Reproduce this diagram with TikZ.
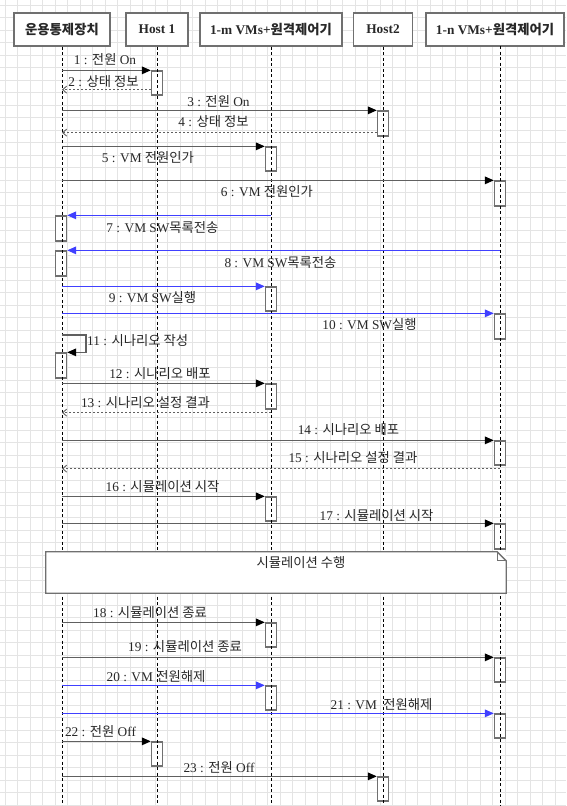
\documentclass[tikz,border=0pt]{standalone}
\usepackage{fontspec}
\setmainfont{Liberation Serif}
\newfontfamily\krfont{Noto Sans CJK KR}
\usetikzlibrary{arrows.meta,calc}
\newcommand\kor[1]{{\krfont #1}}
\definecolor{gridc}{RGB}{228,228,228}
\definecolor{boxgray}{RGB}{112,112,112}
\definecolor{msggray}{RGB}{96,96,96}
\definecolor{msgblue}{RGB}{64,64,255}
\definecolor{textc}{RGB}{40,40,40}
\newcommand\actbox[4]{\node[act, minimum height={#4-#3}] (#1) at (#2,{(#3+#4)/2}) {};}
\begin{document}
\begin{tikzpicture}[x=1pt,y=-1pt,
  hbox/.style={draw=boxgray, fill=white, line width=1.3pt, inner sep=0pt, minimum height=33pt,
    font=\bfseries\fontsize{13.33}{16}\selectfont, text=textc},
  act/.style={draw=boxgray, fill=white, line width=1.3pt, minimum width=11pt, inner sep=0pt},
  lifeline/.style={black, line width=0.8pt, dash pattern=on 3pt off 2.5pt},
  msgline/.style={draw=msggray, line width=1.5pt, -{Triangle[length=9pt,width=7.5pt,color=black]}},
  blueline/.style={draw=msgblue, line width=1.5pt, -{Triangle[length=9pt,width=7.5pt,color=msgblue]}},
  retline/.style={draw=msggray, line width=1.2pt, dash pattern=on 2pt off 2pt, -{Straight Barb[length=4pt,width=7pt,line width=0.9pt]}},
  lbl/.style={anchor=base, yshift=-4.5pt, inner sep=0pt, text=textc, font=\fontsize{13.33}{16}\selectfont},
  notebox/.style={draw=boxgray, line width=1.3pt}
]
\useasboundingbox (0,0) rectangle (566,806);
\fill[white] (0,0) rectangle (566,806);
% grid
\foreach \gx in {5,17.5,...,566} \draw[gridc, line width=0.6pt] (\gx,0) -- (\gx,806);
\foreach \gy in {5,17.5,...,806} \draw[gridc, line width=0.6pt] (0,\gy) -- (566,\gy);
% headers
\node[hbox, minimum width=96pt] (h1) at (62,29.5) {\kor{운용통제장치}};
\node[hbox, minimum width=62pt] (h2) at (157,29.5) {Host 1};
\node[hbox, minimum width=142pt] (h3) at (271,29.5) {1-m VMs+\kor{원격제어기}};
\node[hbox, minimum width=59pt] (h4) at (383,29.5) {Host2};
\node[hbox, minimum width=138pt] (h5) at (495,29.5) {1-n VMs+\kor{원격제어기}};
\coordinate (l5) at (500,46);
% activations
\actbox{a1}{157}{71}{95}
\actbox{a3}{383}{111}{136}
\actbox{a5}{271}{147}{171}
\actbox{a6}{500}{181}{206}
\actbox{a7}{61}{216}{241}
\actbox{a8}{61}{251}{276}
\actbox{a9}{271}{287}{311}
\actbox{a10}{500}{314}{339}
\actbox{a11}{61}{353}{378}
\actbox{a12}{271}{384}{409}
\actbox{a14}{500}{441}{465}
\actbox{a16}{271}{497}{521}
\actbox{a17}{500}{524}{549}
\actbox{a18}{271}{623}{647}
\actbox{a19}{500}{658}{682}
\actbox{a20}{271}{686}{710}
\actbox{a21}{500}{714}{738}
\actbox{a22}{157}{742}{766}
\actbox{a23}{383}{777}{801}
% lifelines
\draw[lifeline] (h1.south) -- (h1.south |- 0,806);
\draw[lifeline] (h2.south) -- (h2.south |- 0,806);
\draw[lifeline] (h3.south) -- (h3.south |- 0,806);
\draw[lifeline] (h4.south) -- (h4.south |- 0,806);
\draw[lifeline] (l5) -- (l5 |- 0,806);
% note
\node[fill=white, minimum width=460pt, minimum height=41pt, inner sep=0pt] (note) at (276,572.5) {};
\draw[notebox] (note.south west) -- (note.north west) -- ([xshift=-9pt]note.north east)
  -- ([yshift=-9pt]note.north east) -- (note.south east) -- cycle;
\draw[boxgray, line width=0.9pt] ([xshift=-9pt]note.north east) |- ([yshift=-9pt]note.north east);
\node[lbl] (nt) at (301,563) {\kor{시뮬레이션 수행}};
% return coordinates
\coordinate (r2) at ([yshift=6pt]a1.south west);
\coordinate (r4) at ([yshift=4pt]a3.south west);
\coordinate (r13) at ([yshift=-3pt]a12.south);
\coordinate (r15) at ([yshift=-3pt]a14.south);
% messages
\draw[msgline] (h1 |- a1.north) -- (a1.north west);
\draw[retline] (r2) -- (h1 |- r2);
\draw[msgline] (h1 |- a3.north) -- (a3.north west);
\draw[retline] (r4) -- (h1 |- r4);
\draw[msgline] (h1 |- a5.north) -- (a5.north west);
\draw[msgline] (h1 |- a6.north) -- (a6.north west);
\draw[blueline] (h3 |- a7.north) -- (a7.north east);
\draw[blueline] (l5 |- a8.north) -- (a8.north east);
\draw[blueline] (h1 |- a9.north) -- (a9.north west);
\draw[blueline] (h1 |- a10.north) -- (a10.north west);
\draw[msgline] (h1 |- 0,335) -- (86,335) |- (a11.north east);
\draw[msgline] (h1 |- a12.north) -- (a12.north west);
\draw[retline] (r13) -- (h1 |- r13);
\draw[msgline] (h1 |- a14.north) -- (a14.north west);
\draw[retline] (r15) -- (h1 |- r15);
\draw[msgline] (h1 |- a16.north) -- (a16.north west);
\draw[msgline] (h1 |- a17.north) -- (a17.north west);
\draw[msgline] (h1 |- a18.north) -- (a18.north west);
\draw[msgline] (h1 |- a19.north) -- (a19.north west);
\draw[blueline] (h1 |- a20.north) -- (a20.north west);
\draw[blueline] (h1 |- a21.north) -- (a21.north west);
\draw[msgline] (h1 |- a22.north) -- (a22.north west);
\draw[msgline] (h1 |- a23.north) -- (a23.north west);
% labels
\node[lbl] (t1) at (105,59.5) {1 : \kor{전원} On};
\node[lbl] (t2) at (103.5,82) {2 : \kor{상태 정보}};
\node[lbl] (t3) at (218.5,102) {3 : \kor{전원} On};
\node[lbl] (t4) at (213.5,122) {4 : \kor{상태 정보}};
\node[lbl] (t5) at (148,157.5) {5 : VM \kor{전원인가}};
\node[lbl] (t6) at (267,191.5) {6 : VM \kor{전원인가}};
\node[lbl] (t7) at (162.5,228) {7 : VM SW\kor{목록전송}};
\node[lbl] (t8) at (280.5,263) {8 : VM SW\kor{목록전송}};
\node[lbl] (t9) at (152.5,298) {9 : VM SW\kor{실행}};
\node[lbl] (t10) at (369.5,325) {10 : VM SW\kor{실행}};
\node[lbl, anchor=base west] (t11) at (87,341) {11 : \kor{시나리오 작성}};
\node[lbl] (t12) at (160,374) {12 : \kor{시나리오 배포}};
\node[lbl] (t13) at (145.5,402.5) {13 : \kor{시나리오 설정 결과}};
\node[lbl] (t14) at (348.5,430) {14 : \kor{시나리오 배포}};
\node[lbl] (t15) at (353,458) {15 : \kor{시나리오 설정 결과}};
\node[lbl] (t16) at (162.5,487) {16 : \kor{시뮬레이션 시작}};
\node[lbl] (t17) at (376.5,516) {17 : \kor{시뮬레이션 시작}};
\node[lbl] (t18) at (150,613) {18 : \kor{시뮬레이션 종료}};
\node[lbl] (t19) at (185,647) {19 : \kor{시뮬레이션 종료}};
\node[lbl] (t20) at (156,677) {20 : VM \kor{전원해제}};
\node[lbl] (t21) at (381.5,705) {21 : VM\hspace{3pt} \kor{전원해제}};
\node[lbl] (t22) at (100.5,732) {22 : \kor{전원} Off};
\node[lbl] (t23) at (219,768) {23 : \kor{전원} Off};
\end{tikzpicture}
\end{document}
